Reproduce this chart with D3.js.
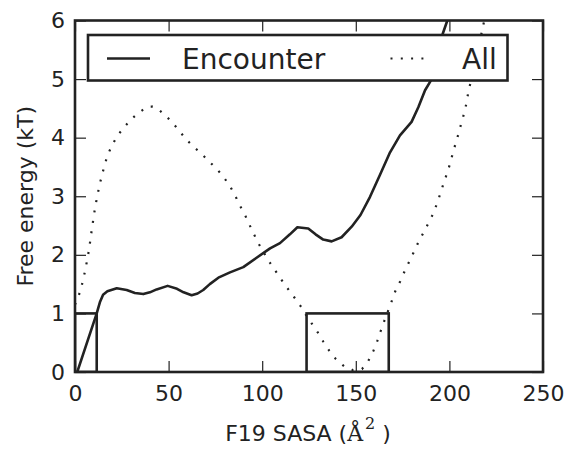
<!doctype html>
<html>
<head>
<meta charset="utf-8">
<style>
  body { margin: 0; background: #fff; }
  svg { display: block; }
</style>
</head>
<body>
<svg width="570" height="449" font-family="DejaVu Sans, sans-serif"></svg>
<script src="https://d3js.org/d3.v7.min.js"></script>
<script>
  // F19 SASA (A^2) vs free energy (kT)
  let encounterX = [1.2, 11.6, 13.4, 15, 17.3, 22.3, 27.6, 32, 36.5, 40, 43.6, 49.5, 54.5, 58, 62.3, 65.5, 68.5, 72, 76.6, 82.8, 89.9, 97, 104.2, 109.5, 114.8, 118.8, 124.6, 128.5, 132.6, 137.1, 142.4, 147.8, 152.5, 157.6, 163, 168.3, 173.6, 179.8, 183.4, 187, 190, 193, 196.4, 198.9, 200];
  let encounterY = [0, 1.0, 1.2, 1.32, 1.38, 1.43, 1.40, 1.35, 1.33, 1.36, 1.41, 1.47, 1.42, 1.36, 1.31, 1.34, 1.40, 1.50, 1.61, 1.70, 1.79, 1.95, 2.11, 2.20, 2.35, 2.47, 2.45, 2.35, 2.26, 2.23, 2.30, 2.48, 2.68, 2.99, 3.37, 3.75, 4.04, 4.27, 4.52, 4.81, 4.97, 5.3, 5.77, 6.0, 6.15];

  let allX = [0, 3, 5.5, 7.5, 9.1, 10.8, 13, 15.7, 17.4, 19.8, 22.6, 25.8, 29.8, 34.2, 38.8, 41.5, 44.3, 48.6, 52.5, 56.1, 60, 63.9, 68, 72.1, 76.2, 79.8, 83, 85.7, 88.1, 90.8, 93.1, 95.6, 98.1, 101, 104, 107.2, 110.4, 113.5, 117, 120.2, 123.3, 126.4, 129.6, 132.6, 135.9, 139.4, 143.7, 148.5, 153.3, 156.7, 159.4, 161.5, 163.3, 165.2, 167.1, 169.2, 171.1, 173.6, 176.5, 180, 183.5, 187, 191, 193.2, 195, 196.7, 198.5, 200.3, 201.7, 203.3, 204.9, 206.3, 207.9, 209.2, 210.1, 212.5, 215, 217.6, 219];
  let allY = [1.15, 1.39, 1.74, 2.09, 2.46, 2.82, 3.18, 3.52, 3.70, 3.87, 4.03, 4.16, 4.31, 4.43, 4.53, 4.53, 4.49, 4.37, 4.24, 4.10, 3.95, 3.83, 3.71, 3.58, 3.45, 3.31, 3.16, 3.0, 2.84, 2.68, 2.52, 2.35, 2.19, 2.03, 1.87, 1.72, 1.57, 1.43, 1.28, 1.14, 0.98, 0.83, 0.68, 0.52, 0.36, 0.22, 0.10, 0.03, 0.05, 0.19, 0.36, 0.53, 0.70, 0.87, 1.03, 1.21, 1.38, 1.54, 1.75, 1.98, 2.22, 2.43, 2.68, 2.86, 3.03, 3.20, 3.37, 3.55, 3.72, 3.90, 4.07, 4.24, 4.42, 4.60, 4.78, 5.1, 5.45, 5.85, 6.05];

  // encounter windows drawn as boxes of height 1 kT
  let boxStart = [0, 123.7];
  let boxEnd = [11.6, 167.6];
  let boxHeight = 1;

  let sasaTicks = [0, 50, 100, 150, 200, 250];
  let energyTicks = [0, 1, 2, 3, 4, 5, 6];
  let seriesNames = ["Encounter", "All"];

  let svg = d3.select("svg"),
    margin = {top: 20.5, right: 27, bottom: 77, left: 75},
    width = +svg.attr("width") - margin.left - margin.right,
    height = +svg.attr("height") - margin.top - margin.bottom;

  let x = d3.scaleLinear().domain([0, 250]).range([0, width]);
  let y = d3.scaleLinear().domain([0, 6]).range([height, 0]);

  let g = svg.append("g").attr("transform", "translate(" + margin.left + "," + margin.top + ")");

  g.append("clipPath").attr("id", "clip")
    .append("rect").attr("width", width).attr("height", height);

  let line = d3.line()
    .x(d => x(d[0]))
    .y(d => y(d[1]));

  let plot = g.append("g").attr("clip-path", "url(#clip)");

  plot.append("path")
    .datum(allX.map((v, i) => [v, allY[i]]))
    .attr("fill", "none")
    .attr("stroke", "#222")
    .attr("stroke-width", 2.2)
    .attr("stroke-dasharray", "2,8.5")
    .attr("d", line);

  plot.append("path")
    .datum(encounterX.map((v, i) => [v, encounterY[i]]))
    .attr("fill", "none")
    .attr("stroke", "#222")
    .attr("stroke-width", 2.6)
    .attr("stroke-linejoin", "round")
    .attr("d", line);

  plot.selectAll(".box")
    .data(boxStart.map((v, i) => [v, boxEnd[i]]))
    .enter().append("rect")
    .attr("class", "box")
    .attr("x", d => x(d[0]))
    .attr("y", y(boxHeight))
    .attr("width", d => x(d[1]) - x(d[0]))
    .attr("height", y(0) - y(boxHeight))
    .attr("fill", "none")
    .attr("stroke", "#222")
    .attr("stroke-width", 2.6);

  // axes, ticks pointing inwards on all four sides
  let tickLen = 11;
  let fmt = d3.format("d");
  function styleAxis(sel) {
    sel.select(".domain").remove();
    sel.selectAll(".tick line").attr("stroke", "#222").attr("stroke-width", 1.2);
    sel.selectAll(".tick text").attr("fill", "#222");
  }

  g.append("g")
    .attr("transform", "translate(0," + height + ")")
    .call(d3.axisBottom(x).tickValues(sasaTicks).tickFormat(fmt).tickSize(-tickLen).tickPadding(13))
    .call(styleAxis)
    .attr("font-size", 22).attr("font-family", null);

  g.append("g")
    .call(d3.axisTop(x).tickValues(sasaTicks).tickSize(-tickLen).tickFormat(""))
    .call(styleAxis);

  g.append("g")
    .call(d3.axisLeft(y).tickValues(energyTicks).tickFormat(fmt).tickSize(-tickLen).tickPadding(10))
    .call(styleAxis)
    .attr("font-size", 22).attr("font-family", null);

  g.append("g")
    .attr("transform", "translate(" + width + ",0)")
    .call(d3.axisRight(y).tickValues(energyTicks).tickSize(-tickLen).tickFormat(""))
    .call(styleAxis);

  g.append("rect")
    .attr("width", width)
    .attr("height", height)
    .attr("fill", "none")
    .attr("stroke", "#222")
    .attr("stroke-width", 2.6);

  // axis labels
  let xl = svg.append("text")
    .attr("x", margin.left + width / 2 - 1)
    .attr("y", 441)
    .attr("text-anchor", "middle")
    .attr("font-size", 22)
    .attr("fill", "#222");
  xl.append("tspan").text("F19 SASA (");
  xl.append("tspan").attr("font-family", "DejaVu Serif, serif").text("Å");
  xl.append("tspan").attr("font-family", "DejaVu Serif, serif").attr("font-size", 16).attr("dy", -12).attr("dx", 2).text("2");
  xl.append("tspan").attr("dy", 12).text(" )");

  svg.append("text")
    .attr("transform", "translate(33," + (margin.top + height / 2) + ") rotate(-90)")
    .attr("text-anchor", "middle")
    .attr("font-size", 22)
    .attr("fill", "#222")
    .text("Free energy (kT)");

  // legend
  let legend = svg.append("g");
  legend.append("rect")
    .attr("x", 88).attr("y", 35)
    .attr("width", 419.5).attr("height", 45.5)
    .attr("fill", "#fff")
    .attr("stroke", "#222")
    .attr("stroke-width", 2.6);

  legend.append("line")
    .attr("x1", 107).attr("x2", 150).attr("y1", 58.5).attr("y2", 58.5)
    .attr("stroke", "#222").attr("stroke-width", 2.6);
  legend.append("text")
    .attr("x", 182).attr("y", 68.5)
    .attr("font-size", 28).attr("fill", "#222")
    .text(seriesNames[0]);

  legend.append("line")
    .attr("x1", 390.5).attr("x2", 430).attr("y1", 58.5).attr("y2", 58.5)
    .attr("stroke", "#222").attr("stroke-width", 2.2)
    .attr("stroke-dasharray", "2,8.3");
  legend.append("text")
    .attr("x", 462).attr("y", 68.5)
    .attr("font-size", 28).attr("fill", "#222")
    .text(seriesNames[1]);
</script>
</body>
</html>
